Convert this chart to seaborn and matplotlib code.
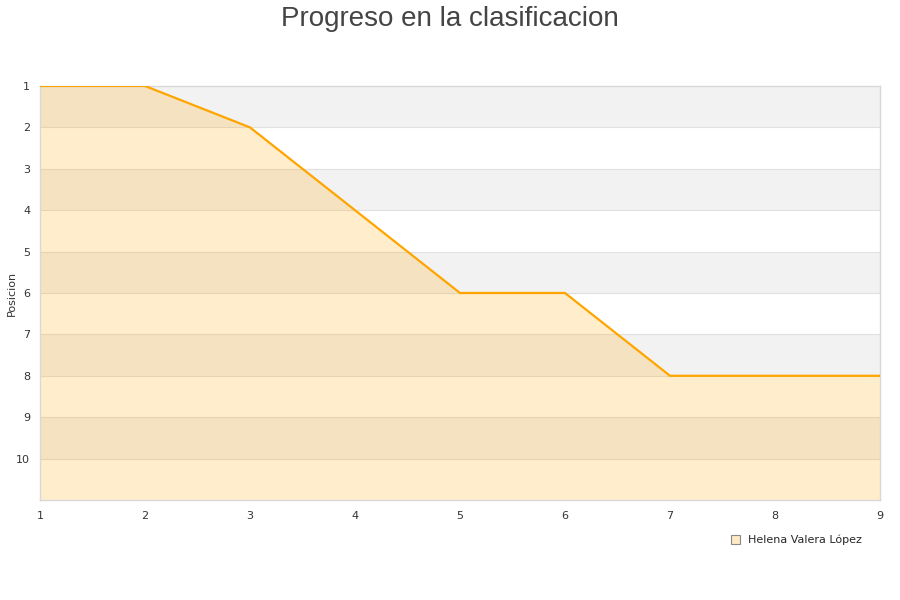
import matplotlib.pyplot as plt
import numpy as np
import pandas as pd
import seaborn as sns
from matplotlib.patches import Patch

jornadas = [1, 2, 3, 4, 5, 6, 7, 8, 9]
posicion = [1, 1, 2, 4, 6, 6, 8, 8, 8]
jugador = "Helena Valera López"

df = pd.DataFrame({"Jornada": jornadas, "Posicion": posicion})

sns.set_style("white")
plt.rcParams["font.family"] = ["DejaVu Sans"]

fig = plt.figure(figsize=(9, 6), dpi=100)
ax = fig.add_axes([0.0444, 0.1667, 0.9334, 0.69])

# alternating bands
for i in range(1, 11):
    if i % 2 == 1:
        ax.axhspan(i, i + 1, color="#f2f2f2", zorder=0, lw=0)
for i in range(2, 11):
    ax.axhline(i, color="#e0e0e0", lw=0.8, zorder=0.5)

ax.fill_between(df["Jornada"], df["Posicion"], 11, color="#ffa500", alpha=0.2, lw=0, zorder=1)
sns.lineplot(data=df, x="Jornada", y="Posicion", ax=ax, color="#ffa500", lw=1.6, zorder=3)

ax.set_xlim(1, 9)
ax.set_ylim(11, 1)
ax.set_yticks(range(1, 11))
ax.set_xticks(jornadas)
ax.tick_params(labelsize=8, colors="#333333", length=0)
ax.tick_params(axis="y", pad=7)
ax.tick_params(axis="x", pad=8)
ax.set_xlabel("")
ax.set_ylabel("Posicion", fontsize=8, color="#333333")
ax.yaxis.set_label_coords(-0.028, 0.5)
for side in ["top", "right", "bottom", "left"]:
    ax.spines[side].set_color("#d8d8d8")
    ax.spines[side].set_linewidth(1)

fig.suptitle("Progreso en la clasificacion", fontsize=20, color="#444444", y=0.99,
             family=["Liberation Sans"])

handle = Patch(facecolor="#fde9c4", edgecolor="#888888", lw=0.8)
fig.legend([handle], [jugador], loc="center", bbox_to_anchor=(0.885, 0.1), frameon=False,
           fontsize=8, handlelength=0.8, handleheight=0.8, handletextpad=0.8)

fig.savefig("out.png", dpi=100)
